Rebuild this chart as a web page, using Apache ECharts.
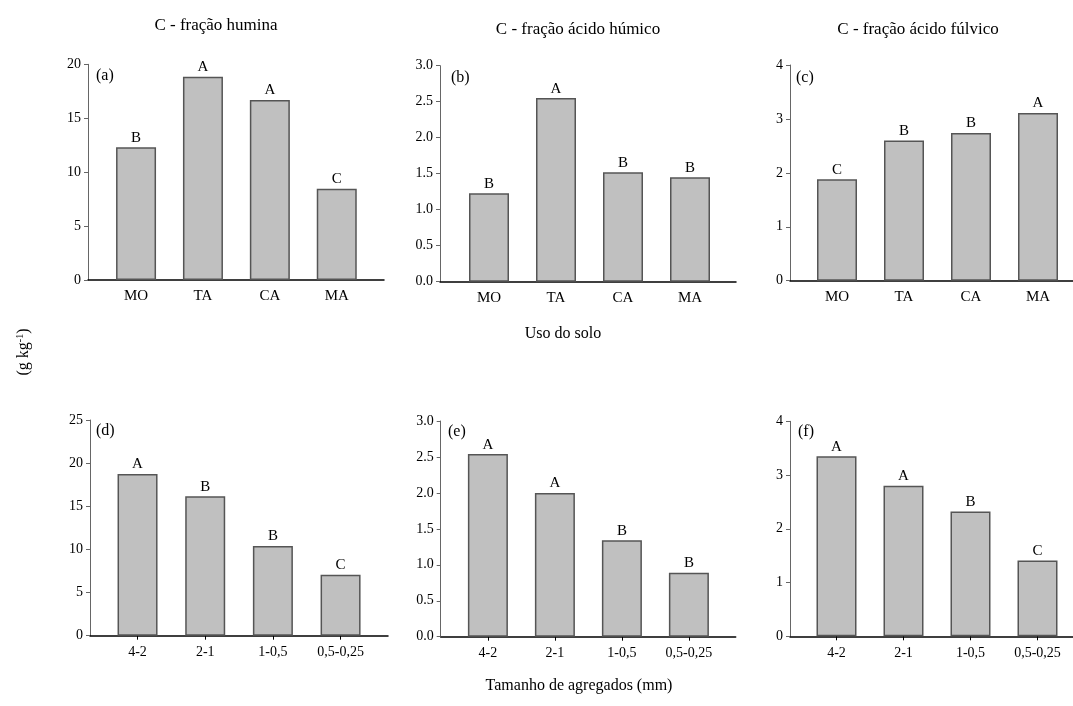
<!DOCTYPE html>
<html>
<head>
<meta charset="utf-8">
<script src="https://cdn.jsdelivr.net/npm/echarts@6/dist/echarts.min.js"></script>
<style>html,body{margin:0;padding:0;background:#fff}#c{width:1073px;height:706px}</style>
</head>
<body>
<div id="c"></div>
<script>
// ---- data ----
const usoCats = ['MO', 'TA', 'CA', 'MA'];
const tamCats = ['4-2', '2-1', '1-0,5', '0,5-0,25'];

const huminaUso = [12.3, 18.85, 16.7, 8.45];
const acHumicoUso = [1.23, 2.55, 1.52, 1.45];
const acFulvicoUso = [1.88, 2.6, 2.74, 3.11];
const huminaTam = [18.75, 16.15, 10.4, 7.05];
const acHumicoTam = [2.54, 2.0, 1.34, 0.89];
const acFulvicoTam = [3.35, 2.8, 2.32, 1.41];

const lettersA = ['B', 'A', 'A', 'C'];
const lettersB = ['B', 'A', 'B', 'B'];
const lettersC = ['C', 'B', 'B', 'A'];
const lettersD = ['A', 'B', 'B', 'C'];
const lettersE = ['A', 'A', 'B', 'B'];
const lettersF = ['A', 'A', 'B', 'C'];

const panelTags = ['(a)', '(b)', '(c)', '(d)', '(e)', '(f)'];
const yMax = [20, 3, 4, 25, 3, 4];
const yStep = [5, 0.5, 1, 5, 0.5, 1];
const yDecimals = [0, 1, 0, 0, 1, 0];

const titles = ['C - fração humina', 'C - fração ácido húmico', 'C - fração ácido fúlvico'];
const xTitleTop = 'Uso do solo';
const xTitleBottom = 'Tamanho de agregados (mm)';

// ---- layout (positions only) ----
const panels = [
  {cats: usoCats, vals: huminaUso, letters: lettersA, frame: [88, 64.3, 296, 215.7], bars: [102.6, 267.6], tag: [96, 76], ticks: false},
  {cats: usoCats, vals: acHumicoUso, letters: lettersB, frame: [440, 65.7, 296, 216], bars: [455.5, 268], tag: [451, 78], ticks: false},
  {cats: usoCats, vals: acFulvicoUso, letters: lettersC, frame: [790, 65, 300, 215.7], bars: [803.5, 268], tag: [796, 78], ticks: false},
  {cats: tamCats, vals: huminaTam, letters: lettersD, frame: [90, 420, 298, 215.7], bars: [103.7, 270.7], tag: [96, 431], ticks: true},
  {cats: tamCats, vals: acHumicoTam, letters: lettersE, frame: [440.7, 421, 295, 215.7], bars: [454.4, 268], tag: [448, 432], ticks: true},
  {cats: tamCats, vals: acFulvicoTam, letters: lettersF, frame: [790, 421.3, 300, 215], bars: [803, 268], tag: [798, 432], ticks: true}
];

const FONT = '"Liberation Serif", "Times New Roman", serif';
const grid = [], xAxis = [], yAxis = [], series = [], graphic = [];

panels.forEach((p, i) => {
  const [fl, ft, fw, fh] = p.frame;
  grid.push({left: fl, top: ft, width: fw, height: fh, containLabel: false});
  grid.push({left: p.bars[0], top: ft, width: p.bars[1], height: fh, containLabel: false});
  const g0 = 2 * i, g1 = 2 * i + 1;
  xAxis.push({gridIndex: g0, type: 'value', min: 0, max: 1,
    axisLine: {show: true, lineStyle: {color: '#000', width: 1.5}},
    axisTick: {show: false}, axisLabel: {show: false}, splitLine: {show: false}});
  yAxis.push({gridIndex: g0, type: 'value', min: 0, max: yMax[i], interval: yStep[i],
    axisLine: {show: true, lineStyle: {color: '#666', width: 1}},
    axisTick: {show: true, length: 4, lineStyle: {color: '#666', width: 1}},
    axisLabel: {fontFamily: FONT, fontSize: 14, color: '#000', margin: 7,
      formatter: v => v.toFixed(yDecimals[i])},
    splitLine: {show: false}});
  xAxis.push({gridIndex: g1, type: 'category', data: p.cats, boundaryGap: true,
    axisLine: {show: false},
    axisTick: {show: p.ticks, alignWithLabel: true, length: 4, lineStyle: {color: '#000', width: 1}},
    axisLabel: {fontFamily: FONT, fontSize: p.ticks ? 14 : 15, color: '#000', margin: p.ticks ? 10 : 9},
    splitLine: {show: false}});
  yAxis.push({gridIndex: g1, type: 'value', min: 0, max: yMax[i], show: false});
  series.push({type: 'bar', xAxisIndex: g1, yAxisIndex: g1, data: p.vals, barWidth: 40,
    itemStyle: {color: '#c0c0c0', borderColor: '#555', borderWidth: 1.5},
    label: {show: true, position: 'top', distance: 2, fontFamily: FONT, fontSize: 15, color: '#000',
      formatter: q => p.letters[q.dataIndex]},
    animation: false});
  graphic.push({type: 'text', left: p.tag[0], top: p.tag[1] - 8,
    style: {text: panelTags[i], font: '16px ' + FONT, fill: '#000'}});
});

const titlePos = [[216, 26], [578, 30], [918, 30]];
titles.forEach((t, i) => {
  graphic.push({type: 'text', x: titlePos[i][0], y: titlePos[i][1],
    style: {text: t, font: '17px ' + FONT, fill: '#000', align: 'center', verticalAlign: 'middle'}});
});
graphic.push({type: 'text', x: 563, y: 334,
  style: {text: xTitleTop, font: '16px ' + FONT, fill: '#000', align: 'center', verticalAlign: 'middle'}});
graphic.push({type: 'text', x: 579, y: 686,
  style: {text: xTitleBottom, font: '16px ' + FONT, fill: '#000', align: 'center', verticalAlign: 'middle'}});
graphic.push({type: 'text', x: 24, y: 352, rotation: Math.PI / 2,
  style: {text: '(g kg{sup|-1})', font: '16px ' + FONT, fill: '#000', align: 'center', verticalAlign: 'middle',
    rich: {sup: {fontSize: 10, fontFamily: FONT, verticalAlign: 'top', padding: [0, 0, 8, 0]}}}});

const chart = echarts.init(document.getElementById('c'), null, {renderer: 'canvas'});
chart.setOption({animation: false, backgroundColor: '#fff', grid, xAxis, yAxis, series, graphic});
</script>
</body>
</html>
